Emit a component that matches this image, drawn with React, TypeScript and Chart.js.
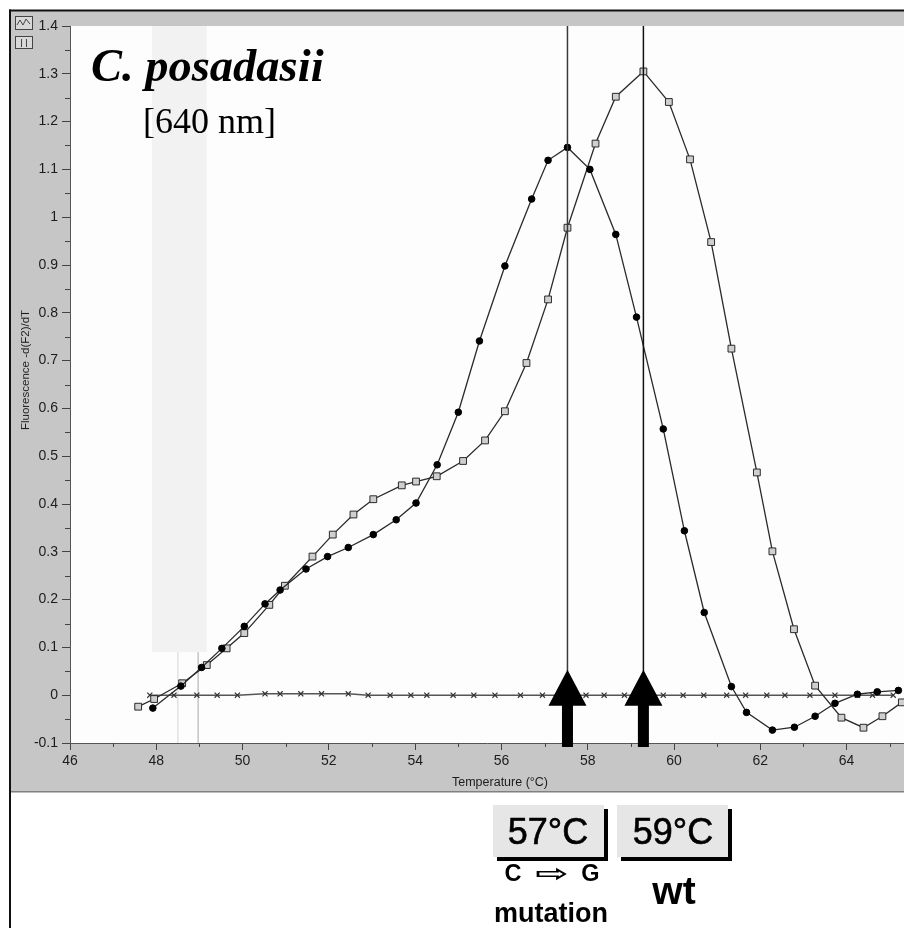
import React, { useEffect, useRef } from "react";
import { Chart, registerables } from "chart.js";
Chart.register(...registerables);

// ---------- axis ranges & ticks ----------
const X_MIN = 46;
const X_MAX = 65.33;
const Y_MIN = -0.1;
const Y_MAX = 1.4;
const X_TICKS = [46, 48, 50, 52, 54, 56, 58, 60, 62, 64];
const X_MINOR = [47, 49, 51, 53, 55, 57, 59, 61, 63, 65];
const Y_TICKS = [-0.1, 0, 0.1, 0.2, 0.3, 0.4, 0.5, 0.6, 0.7, 0.8, 0.9, 1, 1.1, 1.2, 1.3, 1.4];
const Y_MINOR = [-0.05, 0.05, 0.15, 0.25, 0.35, 0.45, 0.55, 0.65, 0.75, 0.85, 0.95, 1.05, 1.15, 1.25, 1.35];

// ---------- series: C -> G mutation (filled circles) ----------
const MUT_T = [47.92, 48.57, 49.05, 49.52, 50.04, 50.52, 50.87, 51.47, 51.97, 52.45, 53.03, 53.56, 54.02, 54.51, 55.0, 55.49, 56.08, 56.7, 57.08, 57.53, 58.05, 58.65, 59.13, 59.75, 60.24, 60.7, 61.33, 61.68, 62.28, 62.79, 63.27, 63.73, 64.25, 64.71, 65.2];
const MUT_V = [-0.027, 0.019, 0.058, 0.098, 0.144, 0.191, 0.22, 0.264, 0.29, 0.309, 0.336, 0.367, 0.402, 0.482, 0.592, 0.741, 0.898, 1.038, 1.119, 1.146, 1.1, 0.964, 0.791, 0.557, 0.344, 0.173, 0.018, -0.036, -0.073, -0.067, -0.044, -0.017, 0.002, 0.007, 0.01];

// ---------- series: wild type (open squares) ----------
const WT_T = [47.58, 47.95, 48.6, 49.17, 49.63, 50.04, 50.62, 50.98, 51.62, 52.09, 52.57, 53.03, 53.69, 54.02, 54.5, 55.11, 55.62, 56.08, 56.58, 57.08, 57.53, 58.18, 58.65, 59.29, 59.88, 60.37, 60.86, 61.33, 61.92, 62.28, 62.78, 63.27, 63.88, 64.39, 64.83, 65.28];
const WT_V = [-0.024, -0.008, 0.025, 0.063, 0.098, 0.13, 0.189, 0.229, 0.29, 0.336, 0.378, 0.41, 0.439, 0.447, 0.458, 0.49, 0.533, 0.594, 0.695, 0.828, 0.978, 1.154, 1.252, 1.305, 1.241, 1.121, 0.948, 0.725, 0.466, 0.301, 0.138, 0.02, -0.047, -0.068, -0.044, -0.015];

// ---------- series: negative control baseline (x markers) ----------
const BASE_T = [47.85, 48.41, 48.94, 49.41, 49.88, 50.52, 50.87, 51.35, 51.83, 52.45, 52.91, 53.42, 53.9, 54.27, 54.88, 55.36, 55.85, 56.44, 56.95, 57.5, 57.96, 58.38, 58.85, 59.3, 59.75, 60.21, 60.69, 61.22, 61.66, 62.15, 62.57, 63.15, 63.73, 64.25, 64.6, 65.08];
const BASE_V = [0, 0, 0, 0, 0, 0.003, 0.003, 0.003, 0.003, 0.003, 0, 0, 0, 0, 0, 0, 0, 0, 0, 0, 0, 0, 0, 0, 0, 0, 0, 0, 0, 0, 0, 0, 0, 0, 0, 0];

// ---------- annotations ----------
const PEAK_T = [57.53, 59.29];
const ARROW_TIP_V = 0.053;
const SHADE_T = [47.9, 49.17];
const SHADE_BOTTOM_V = 0.09;
const GUIDE_T = [48.5, 48.97];

const toPts = (t: number[], v: number[]) => t.map((x, i) => ({ x, y: v[i] }));

const SANS = "'Liberation Sans', Arial, sans-serif";
const SERIF = "'Liberation Serif', 'Times New Roman', serif";

const decor = {
  id: "decor",
  beforeDraw(chart: any) {
    const { ctx, chartArea: a, width, height } = chart;
    ctx.save();
    ctx.fillStyle = "#ffffff";
    ctx.fillRect(0, 0, width, height);
    ctx.fillStyle = "#c6c6c6";
    ctx.fillRect(11, 11, width - 11, 781);
    ctx.fillStyle = "#808080";
    ctx.fillRect(11, 791, width - 11, 1.5);
    ctx.fillStyle = "#111";
    ctx.fillRect(9, 9.5, width - 9, 2);
    ctx.fillRect(9, 9.5, 2, height);
    ctx.fillStyle = "#fdfdfd";
    ctx.fillRect(a.left, a.top, a.right - a.left, a.bottom - a.top);
    // small toolbar icons
    ctx.strokeStyle = "#444";
    ctx.lineWidth = 1;
    ctx.fillStyle = "#d8d8d8";
    ctx.fillRect(15, 16, 18, 14);
    ctx.strokeRect(15.5, 16.5, 17, 13);
    ctx.beginPath();
    ctx.moveTo(17, 25); ctx.lineTo(20, 20); ctx.lineTo(23, 25); ctx.lineTo(26, 19); ctx.lineTo(30, 24);
    ctx.stroke();
    ctx.fillRect(15, 36, 18, 13);
    ctx.strokeRect(15.5, 36.5, 17, 12);
    ctx.beginPath();
    ctx.moveTo(21.5, 39); ctx.lineTo(21.5, 47); ctx.moveTo(26.5, 39); ctx.lineTo(26.5, 47);
    ctx.stroke();
    ctx.restore();
  },
  beforeDatasetsDraw(chart: any) {
    const { ctx, chartArea: a } = chart;
    const xs = chart.scales.x;
    const ys = chart.scales.y;
    ctx.save();
    const sx0 = xs.getPixelForValue(SHADE_T[0]);
    const sx1 = xs.getPixelForValue(SHADE_T[1]);
    const sb = ys.getPixelForValue(SHADE_BOTTOM_V);
    ctx.fillStyle = "#f2f2f2";
    ctx.fillRect(sx0, a.top, sx1 - sx0, sb - a.top);
    ctx.lineWidth = 1.5;
    GUIDE_T.forEach((t, i) => {
      const gx = xs.getPixelForValue(t);
      ctx.strokeStyle = i === 0 ? "#e2e2e2" : "#c4c4c4";
      ctx.beginPath();
      ctx.moveTo(gx, sb);
      ctx.lineTo(gx, a.bottom);
      ctx.stroke();
    });
    // minor ticks
    ctx.strokeStyle = "#444";
    ctx.lineWidth = 1;
    ctx.beginPath();
    Y_MINOR.forEach((v) => {
      const y = Math.round(ys.getPixelForValue(v)) + 0.5;
      ctx.moveTo(a.left - 5, y);
      ctx.lineTo(a.left, y);
    });
    X_MINOR.forEach((t) => {
      const x = Math.round(xs.getPixelForValue(t)) + 0.5;
      ctx.moveTo(x, a.bottom);
      ctx.lineTo(x, a.bottom + 4);
    });
    ctx.stroke();
    ctx.restore();
  },
  afterDatasetsDraw(chart: any) {
    const { ctx, chartArea: a } = chart;
    const xs = chart.scales.x;
    const ys = chart.scales.y;
    ctx.save();
    PEAK_T.forEach((t, i) => {
      const x = xs.getPixelForValue(t);
      const tip = ys.getPixelForValue(ARROW_TIP_V);
      ctx.strokeStyle = i === 0 ? "#3a3a3a" : "#111";
      ctx.lineWidth = 1.5;
      ctx.beginPath();
      ctx.moveTo(x, a.top);
      ctx.lineTo(x, tip + 2);
      ctx.stroke();
      ctx.fillStyle = "#000";
      ctx.beginPath();
      ctx.moveTo(x, tip);
      ctx.lineTo(x + 19, tip + 36);
      ctx.lineTo(x + 5.5, tip + 36);
      ctx.lineTo(x + 5.5, a.bottom + 4);
      ctx.lineTo(x - 5.5, a.bottom + 4);
      ctx.lineTo(x - 5.5, tip + 36);
      ctx.lineTo(x - 19, tip + 36);
      ctx.closePath();
      ctx.fill();
    });
    ctx.restore();
  },
};

export default function App() {
  const ref = useRef<HTMLCanvasElement>(null);
  useEffect(() => {
    document.body.style.margin = "0";
    const chart = new Chart(ref.current as HTMLCanvasElement, {
      type: "line",
      data: {
        datasets: [
          {
            label: "C→G mutation",
            data: toPts(MUT_T, MUT_V),
            borderColor: "#2a2a2a",
            borderWidth: 1.3,
            pointStyle: "circle",
            pointRadius: 3.3,
            pointBackgroundColor: "#000",
            pointBorderColor: "#000",
            pointBorderWidth: 1,
            tension: 0,
            fill: false,
          },
          {
            label: "wt",
            data: toPts(WT_T, WT_V),
            borderColor: "#2a2a2a",
            borderWidth: 1.3,
            pointStyle: "rect",
            pointRadius: 4.8,
            pointBackgroundColor: "#cfcfcf",
            pointBorderColor: "#2a2a2a",
            pointBorderWidth: 1,
            tension: 0,
            fill: false,
          },
          {
            label: "control",
            data: toPts(BASE_T, BASE_V),
            borderColor: "#555",
            borderWidth: 1.5,
            pointStyle: "crossRot",
            pointRadius: 3.6,
            pointBorderColor: "#333",
            pointBorderWidth: 1.2,
            tension: 0,
            fill: false,
          },
        ],
      },
      options: {
        responsive: false,
        devicePixelRatio: 1,
        animation: false,
        events: [],
        layout: { autoPadding: false, padding: { top: 26, right: 0, bottom: 0, left: 0 } },
        plugins: { legend: { display: false }, tooltip: { enabled: false }, title: { display: false } },
        scales: {
          x: {
            type: "linear",
            min: X_MIN,
            max: X_MAX,
            afterBuildTicks: (s: any) => {
              s.ticks = X_TICKS.map((v) => ({ value: v }));
            },
            afterFit: (s: any) => {
              s.height = 185;
              s.paddingLeft = 0;
              s.paddingRight = 0;
            },
            grid: { drawOnChartArea: false, drawTicks: true, tickLength: 7, color: "#444", tickWidth: 1 },
            border: { display: true, color: "#555", width: 1 },
            ticks: {
              autoSkip: false,
              maxRotation: 0,
              padding: 3,
              color: "#1c1c1c",
              font: { family: SANS, size: 14 },
              callback: (v: any) => String(v),
            },
          },
          y: {
            type: "linear",
            min: Y_MIN,
            max: Y_MAX,
            afterBuildTicks: (s: any) => {
              s.ticks = Y_TICKS.map((v) => ({ value: v }));
            },
            afterFit: (s: any) => {
              s.width = 70;
            },
            grid: { drawOnChartArea: false, drawTicks: true, tickLength: 8, color: "#444", tickWidth: 1 },
            border: { display: true, color: "#555", width: 1 },
            ticks: {
              autoSkip: false,
              padding: 4,
              color: "#1c1c1c",
              font: { family: SANS, size: 14 },
              callback: (v: any) => String(Math.round(Number(v) * 100) / 100),
            },
          },
        },
      },
      plugins: [decor],
    } as any);
    return () => chart.destroy();
  }, []);

  const abs = (o: any) => ({ position: "absolute" as const, margin: 0, whiteSpace: "nowrap" as const, ...o });
  const box = (left: number) =>
    abs({ left, top: 805, width: 111, height: 52, background: "#e6e6e6", boxShadow: "4px 4px 0 0 #000" });
  const big = { fontFamily: SANS, fontSize: 36, lineHeight: 1, color: "#000", WebkitTextStroke: "0.6px #000" };

  return (
    <div style={{ position: "absolute", left: 0, top: 0, width: 904, height: 928, overflow: "hidden", background: "#fff" }}>
      <canvas ref={ref} width={904} height={928} style={{ position: "absolute", left: 0, top: 0, width: 904, height: 928 }} />
      <div style={abs({ left: 91, top: 43, fontFamily: SERIF, fontSize: 46.5, fontWeight: 700, fontStyle: "italic", lineHeight: 1, color: "#000" })}>
        C. posadasii
      </div>
      <div style={abs({ left: 143, top: 103, fontFamily: SERIF, fontSize: 36, lineHeight: 1, color: "#000" })}>[640 nm]</div>
      <div
        style={abs({
          left: -75,
          top: 363,
          width: 200,
          height: 14,
          textAlign: "center",
          fontFamily: SANS,
          fontSize: 11.5,
          lineHeight: "14px",
          color: "#1c1c1c",
          transform: "rotate(-90deg)",
        })}
      >
        Fluorescence -d(F2)/dT
      </div>
      <div style={abs({ left: 452, top: 776, fontFamily: SANS, fontSize: 12.5, lineHeight: 1, color: "#1c1c1c" })}>Temperature (°C)</div>
      <div style={box(493)} />
      <div style={box(617)} />
      <div style={abs({ left: 448, top: 814, width: 200, textAlign: "center", ...big })}>57°C</div>
      <div style={abs({ left: 573, top: 814, width: 200, textAlign: "center", ...big })}>59°C</div>
      <div style={abs({ left: 452, top: 862, width: 200, textAlign: "center", fontFamily: SANS, fontSize: 23.5, fontWeight: 700, lineHeight: 1, color: "#000" })}>
        C
        <span
          style={{
            display: "inline-block",
            fontFamily: "'DejaVu Sans', sans-serif",
            fontWeight: 700,
            transform: "scale(1.7, 0.95)",
            margin: "0 20px",
          }}
        >
          ⇨
        </span>
        G
      </div>
      <div style={abs({ left: 451, top: 900, width: 200, textAlign: "center", fontFamily: SANS, fontSize: 27, fontWeight: 700, lineHeight: 1, color: "#000" })}>mutation</div>
      <div style={abs({ left: 574, top: 871, width: 200, textAlign: "center", fontFamily: SANS, fontSize: 39, fontWeight: 700, lineHeight: 1, color: "#000" })}>wt</div>
    </div>
  );
}
